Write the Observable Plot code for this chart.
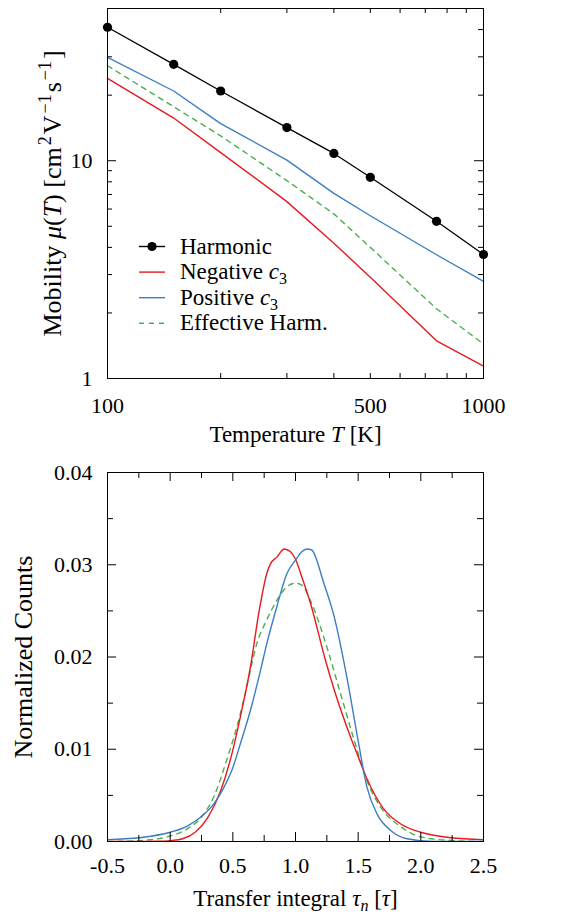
<!DOCTYPE html>
<html>
<head>
<meta charset="utf-8">
<script src="https://cdn.jsdelivr.net/npm/d3@7"></script>
<script src="https://cdn.jsdelivr.net/npm/@observablehq/plot@0.6"></script>
<style>
  body { margin: 0; background: #fff; }
  #chart { width: 580px; position: relative; }
  #chart svg { display: block; }
</style>
</head>
<body>
<div id="chart"></div>
<script>
// ---------- Top panel data (mobility vs temperature) ----------
const temps = [100, 150, 200, 300, 400, 500, 750, 1000];
const harmonic = [41.0, 27.7, 20.9, 14.2, 10.8, 8.39, 5.27, 3.71];
const negativeC3 = [23.9, 15.7, 10.9, 6.49, 4.18, 2.92, 1.49, 1.14];
const positiveC3 = [29.8, 20.9, 14.8, 10.07, 7.08, 5.59, 3.70, 2.79];
const effectiveHarm = [27.3, 17.7, 13.0, 8.1, 5.7, 4.0, 2.09, 1.44];

// ---------- Bottom panel data (transfer integral distribution) ----------
const negTau = [-0.5, -0.3, -0.1, 0.0, 0.1, 0.2, 0.3, 0.4, 0.5, 0.56, 0.64, 0.71, 0.77, 0.80, 0.85, 0.91, 0.96, 1.0, 1.05, 1.12, 1.24, 1.31, 1.44, 1.5, 1.57, 1.7, 1.84, 2.0, 2.24, 2.5];
const negCounts = [0, 0, 0.00003, 0.0001, 0.0003, 0.0010, 0.0026, 0.0054, 0.0099, 0.0135, 0.0189, 0.0250, 0.0290, 0.0301, 0.0308, 0.0317, 0.0314, 0.0306, 0.0287, 0.0258, 0.0196, 0.0164, 0.0113, 0.0092, 0.0068, 0.0036, 0.0019, 0.0010, 0.0004, 0.0002];
const posTau = [-0.5, -0.25, 0.0, 0.14, 0.24, 0.35, 0.43, 0.5, 0.56, 0.64, 0.72, 0.77, 0.85, 0.93, 1.0, 1.05, 1.09, 1.13, 1.17, 1.21, 1.31, 1.41, 1.5, 1.57, 1.65, 1.76, 1.89, 2.1, 2.5];
const posCounts = [0.0002, 0.0004, 0.0010, 0.0017, 0.0026, 0.0041, 0.0059, 0.0080, 0.0106, 0.0142, 0.0185, 0.0214, 0.0254, 0.0290, 0.0305, 0.0314, 0.0317, 0.0316, 0.0305, 0.0287, 0.0243, 0.0178, 0.0109, 0.0059, 0.0030, 0.0012, 0.0003, 0.0, 0.0];
const effTau = [-0.5, -0.24, 0.0, 0.14, 0.24, 0.35, 0.45, 0.54, 0.61, 0.69, 0.77, 0.85, 0.93, 1.0, 1.05, 1.12, 1.25, 1.36, 1.47, 1.57, 1.68, 1.84, 2.0, 2.26, 2.5];
const effCounts = [0, 0.0001, 0.0006, 0.0014, 0.0025, 0.0049, 0.0088, 0.0128, 0.0167, 0.0214, 0.0240, 0.0261, 0.0276, 0.0280, 0.0278, 0.0261, 0.0211, 0.0160, 0.0109, 0.0066, 0.0037, 0.0016, 0.0005, 0.0001, 0];

// ---------- Series / legend ----------
const seriesNames = ["Harmonic", "Negative c3", "Positive c3", "Effective Harm."];
const seriesColors = ["#000000", "#e8191f", "#3b7ec3", "#4cae4c"];

// ---------- Tick values ----------
const topXLabels = [100, 500, 1000];
const topXMinor = [200, 300, 400, 500, 600, 700, 800, 900];
const topYLabels = [1, 10];
const topYMajor = [10];
const topYMinor = [2, 3, 4, 5, 6, 7, 8, 9, 20, 30, 40];

const botXLabels = [-0.5, 0, 0.5, 1, 1.5, 2, 2.5];
const botXMajor = [0, 0.5, 1, 1.5, 2];
const botXMinor = [-0.25, 0.25, 0.75, 1.25, 1.75, 2.25];
const botYLabels = [0, 0.01, 0.02, 0.03, 0.04];
const botYMajor = [0.01, 0.02, 0.03];
const botYMinor = [0.005, 0.015, 0.025, 0.035];

const FONT = "'Liberation Serif', 'Times New Roman', serif";
const W = 580;

function rows(xs, ys) { return xs.map((x, i) => ({x, y: ys[i]})); }

function tickMarks(plotW, plotH, xMaj, xMin, yMaj, yMin, lMaj, lMin) {
  const s = {stroke: "black", strokeWidth: 1};
  return [
    Plot.tickX(xMaj, {x: d => d, insetTop: plotH - lMaj, ...s}),
    Plot.tickX(xMaj, {x: d => d, insetBottom: plotH - lMaj, ...s}),
    Plot.tickX(xMin, {x: d => d, insetTop: plotH - lMin, ...s}),
    Plot.tickX(xMin, {x: d => d, insetBottom: plotH - lMin, ...s}),
    Plot.tickY(yMaj, {y: d => d, insetRight: plotW - lMaj, ...s}),
    Plot.tickY(yMaj, {y: d => d, insetLeft: plotW - lMaj, ...s}),
    Plot.tickY(yMin, {y: d => d, insetRight: plotW - lMin, ...s}),
    Plot.tickY(yMin, {y: d => d, insetLeft: plotW - lMin, ...s})
  ];
}

// ================= TOP PANEL =================
const topM = {top: 8, right: 97, bottom: 82, left: 107};
const topH = 460;
const topPW = W - topM.left - topM.right;
const topPH = topH - topM.top - topM.bottom;

const topPlot = Plot.plot({
  width: W, height: topH,
  marginTop: topM.top, marginRight: topM.right, marginBottom: topM.bottom, marginLeft: topM.left,
  style: {fontFamily: FONT, fontSize: "22px", color: "black", background: "white"},
  x: {type: "log", domain: [100, 1000]},
  y: {type: "log", domain: [1, 50]},
  marks: [
    Plot.line(rows(temps, negativeC3), {x: "x", y: "y", stroke: seriesColors[1], strokeWidth: 1.4}),
    Plot.line(rows(temps, positiveC3), {x: "x", y: "y", stroke: seriesColors[2], strokeWidth: 1.4}),
    Plot.line(rows(temps, effectiveHarm), {x: "x", y: "y", stroke: seriesColors[3], strokeWidth: 1.4, strokeDasharray: "5,5"}),
    Plot.line(rows(temps, harmonic), {x: "x", y: "y", stroke: seriesColors[0], strokeWidth: 1.3}),
    Plot.dot(rows(temps, harmonic), {x: "x", y: "y", r: 4.6, fill: seriesColors[0]}),
    ...tickMarks(topPW, topPH, [], topXMinor, topYMajor, topYMinor, 9, 5),
    Plot.frame({stroke: "black", strokeWidth: 1}),
    Plot.axisX({ticks: topXLabels, tickSize: 0, tickPadding: 19, tickFormat: d => String(d), label: null, fontSize: 22}),
    Plot.axisY({ticks: topYLabels, tickSize: 0, tickPadding: 15, tickFormat: d => String(d), label: null, fontSize: 22}),
    Plot.text(["@XTITLE_TOP"], {text: d => d, frameAnchor: "bottom", dy: 56, textAnchor: "middle", lineAnchor: "middle", fontSize: 23}),
    Plot.text(["@YTITLE_TOP"], {text: d => d, frameAnchor: "left", dx: -55, rotate: -90, textAnchor: "middle", lineAnchor: "middle", fontSize: 26})
  ]
});

// ================= BOTTOM PANEL =================
const botM = {top: 12, right: 97, bottom: 75, left: 107};
const botH = 456;
const botPW = W - botM.left - botM.right;
const botPH = botH - botM.top - botM.bottom;

const botPlot = Plot.plot({
  width: W, height: botH,
  marginTop: botM.top, marginRight: botM.right, marginBottom: botM.bottom, marginLeft: botM.left,
  style: {fontFamily: FONT, fontSize: "22px", color: "black", background: "white"},
  x: {domain: [-0.5, 2.5]},
  y: {domain: [0, 0.04]},
  marks: [
    Plot.line(rows(effTau, effCounts), {x: "x", y: "y", stroke: seriesColors[3], strokeWidth: 1.4, strokeDasharray: "5,5", curve: "monotone-x", clip: true}),
    Plot.line(rows(negTau, negCounts), {x: "x", y: "y", stroke: seriesColors[1], strokeWidth: 1.4, curve: "monotone-x", clip: true}),
    Plot.line(rows(posTau, posCounts), {x: "x", y: "y", stroke: seriesColors[2], strokeWidth: 1.4, curve: "monotone-x", clip: true}),
    ...tickMarks(botPW, botPH, botXMajor, botXMinor, botYMajor, botYMinor, 9, 6),
    Plot.frame({stroke: "black", strokeWidth: 1}),
    Plot.axisX({ticks: botXLabels, tickSize: 0, tickPadding: 16, tickFormat: d => d.toFixed(1), label: null, fontSize: 22}),
    Plot.axisY({ticks: botYLabels, tickSize: 0, tickPadding: 15, tickFormat: d => d.toFixed(2), label: null, fontSize: 22}),
    Plot.text(["@XTITLE_BOT"], {text: d => d, frameAnchor: "bottom", dy: 57, textAnchor: "middle", lineAnchor: "middle", fontSize: 23}),
    Plot.text(["Normalized Counts"], {text: d => d, frameAnchor: "left", dx: -84, rotate: -90, textAnchor: "middle", lineAnchor: "middle", fontSize: 26})
  ]
});

const chart = document.getElementById("chart");
chart.appendChild(topPlot);
chart.appendChild(botPlot);

// ---------- rich text for titles ----------
const sup = (t) => `<tspan dx="2" dy="-10" font-size="18">${t}</tspan>`;
const back = (t) => `<tspan dx="2" dy="10">${t}</tspan>`;
const richTitles = {
  "@XTITLE_TOP": 'Temperature <tspan font-style="italic">T</tspan> [K]',
  "@YTITLE_TOP": 'Mobility <tspan font-style="italic">μ</tspan>(<tspan font-style="italic">T</tspan>) [cm' + sup('2') + back('V') + sup('−1') + back('s') + sup('−1') + back(']'),
  "@XTITLE_BOT": 'Transfer integral <tspan font-style="italic">τ</tspan><tspan dy="5" font-size="16" font-style="italic">n</tspan><tspan dy="-5"> [</tspan><tspan font-style="italic">τ</tspan>]'
};
d3.selectAll("#chart svg text").each(function() {
  const key = this.textContent.trim();
  if (richTitles[key]) this.innerHTML = richTitles[key];
});

// ---------- legend inside top panel ----------
const lg = d3.select(topPlot).append("g")
  .attr("font-family", FONT).attr("font-size", 23).attr("fill", "black")
  .attr("text-anchor", "start");
const legendLabels = [
  'Harmonic',
  'Negative <tspan font-style="italic">c</tspan><tspan dy="5" font-size="16">3</tspan>',
  'Positive <tspan font-style="italic">c</tspan><tspan dy="5" font-size="16">3</tspan>',
  'Effective Harm.'
];
seriesNames.forEach((name, i) => {
  const y = 246.5 + i * 25.6;
  const line = lg.append("line")
    .attr("x1", 139).attr("x2", 165).attr("y1", y).attr("y2", y)
    .attr("stroke", seriesColors[i]).attr("stroke-width", 1.4);
  if (i === 3) line.attr("stroke-dasharray", "5,5");
  if (i === 0) lg.append("circle").attr("cx", 152).attr("cy", y).attr("r", 4.6).attr("fill", seriesColors[0]);
  lg.append("text").attr("x", 180).attr("y", y + 7).attr("text-anchor", "start").html(legendLabels[i]);
});
</script>
</body>
</html>
